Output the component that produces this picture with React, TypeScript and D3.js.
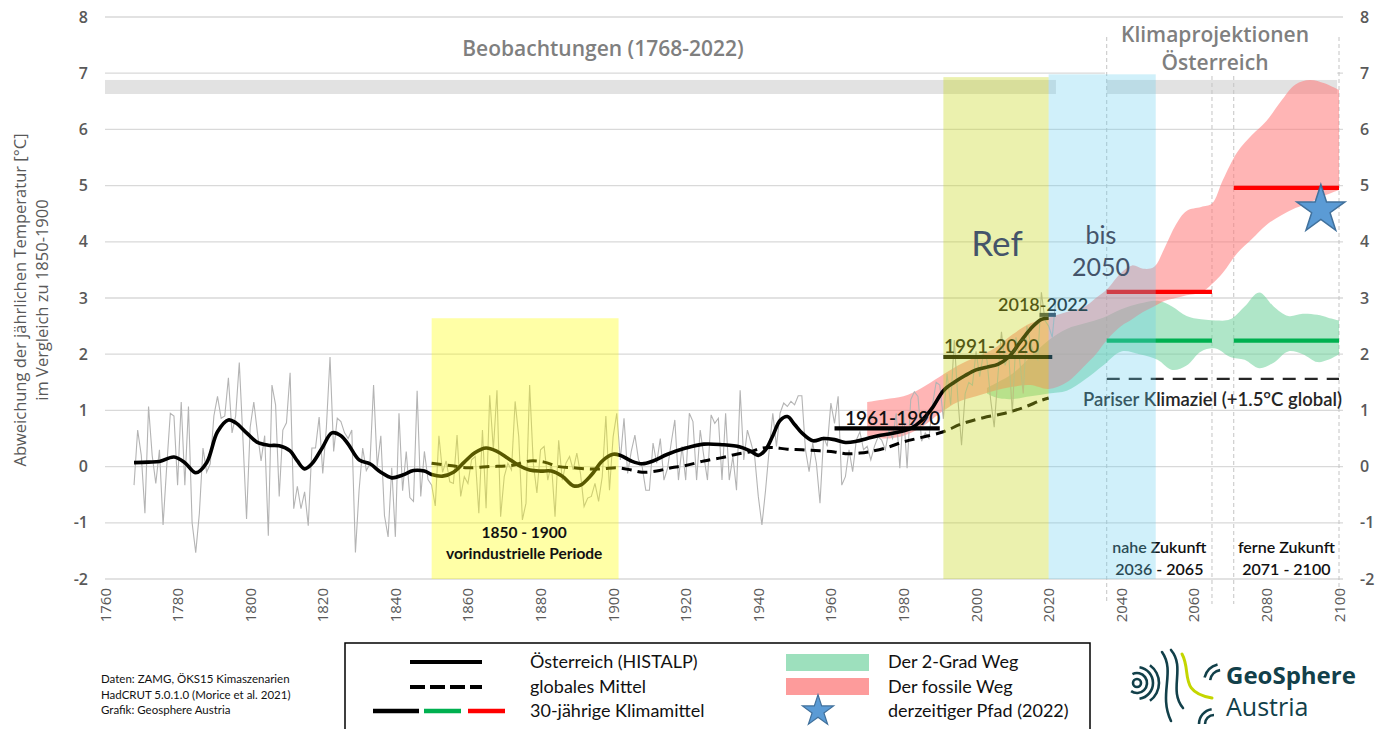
import React from 'react';
import * as d3 from 'd3';

// ---------------- DATA ----------------
const yTicks = [-2, -1, 0, 1, 2, 3, 4, 5, 6, 7, 8];
const xTicks = [1760, 1780, 1800, 1820, 1840, 1860, 1880, 1900, 1920, 1940, 1960, 1980, 2000, 2020, 2040, 2060, 2080, 2100];

// Austria (HISTALP) annual anomalies 1768-2022
const annualStart = 1768;
const annualVals = [
  -0.33, 0.65, 0.2, -0.83, 1.07, 0.2, -0.3, 0.3, -1.04, 0.0,
  0.95, 0.9, -0.33, 1.15, -0.33, 1.07, -1.0, -1.53, -0.83, 0.33,
  -0.1, 0.05, 0.9, 1.25, 0.86, 0.9, 1.58, 0.6, 0.9, 1.85,
  0.5, -0.93, 0.7, 1.15, 0.6, 0.1, 0.55, -1.23, 1.45, 1.1,
  -0.53, 0.65, 0.78, 1.67, -0.75, -0.35, -0.75, -0.45, -1.05, 0.33,
  0.33, 0.88, -0.12, 0.7, 1.95, 0.27, 0.86, 0.8, 0.6, 0.5,
  0.65, -1.53, -0.43, 0.33, -0.07, 0.05, 1.45, 0.0, 0.55, -0.87,
  -1.25, -0.02, -1.25, 0.95, -0.43, 0.27, -0.55, -0.62, 1.35, -0.53,
  0.27, -0.23, -0.33, -0.7, 0.55, -0.1, 0.1, -0.27, -0.3, 0.56,
  -0.53, -0.18, -0.3, 0.12, 0.18, -0.83, 0.65, -0.74, 1.27, 0.3,
  1.36, -0.89, -0.18, 0.06, -0.06, 1.16, 0.53, -0.95, -0.65, 1.45,
  0.06, -0.47, 0.3, 0.36, -0.24, 0.06, -0.89, 0.47, -0.24, 0.06,
  0.18, -0.06, 0.24, -0.12, -0.71, -0.56, -0.53, -0.3, -0.62, -0.18,
  0.9, -0.42, 0.53, 0.95, 0.12, 0.86, -0.12, 0.27, 0.56, 0.12,
  0.0, -0.42, -0.42, 0.42, 0.06, 0.5, -0.24, -0.03, 0.42, 0.83,
  -0.24, 0.36, -0.24, 0.95, 0.8, -0.24, 0.65, 0.18, -0.24, 0.92,
  0.77, 0.86, -0.24, 0.95, -0.24, 0.18, -0.42, 1.36, 0.12, 0.65,
  0.42, 0.18, -0.53, -1.04, -0.42, 0.3, 0.95, 0.36, 0.95, 1.13,
  1.07, 1.16, 1.1, 1.26, 1.26, 0.3, -0.09, 0.42, 0.06, -0.65,
  0.53, 0.36, 1.13, 0.77, 1.25, -0.33, -0.18, 0.3, -0.09, 0.47,
  0.62, 0.3, 0.36, 0.12, 0.36, 0.53, 0.47, 0.3, 0.65, 0.5,
  0.95, -0.03, 1.0, -0.03, 1.19, 1.33, 1.25, 0.45, 0.6, 0.5,
  1.1, 1.5, 1.45, 0.85, 1.65, 1.1, 2.25, 1.2, 0.38, 1.3,
  1.5, 1.45, 2.05, 1.6, 2.0, 1.9, 1.2, 0.7, 1.6, 2.4,
  1.8, 2.0, 0.95, 2.3, 1.9, 1.3, 2.5, 2.2, 2.0, 1.9,
  3.1, 2.6, 2.5, 2.3, 3.0,
];

// Austria smoothed
const trendYears = [1768, 1772, 1775, 1779, 1782, 1785, 1788, 1791, 1794, 1796, 1799, 1802, 1805, 1808, 1811, 1813, 1815, 1817, 1820, 1822.5, 1825, 1827, 1830, 1833, 1836, 1839, 1842, 1845, 1848, 1850, 1853, 1856, 1859, 1862, 1865, 1868, 1871, 1874, 1877, 1880, 1883, 1886, 1889, 1891, 1894, 1897, 1900, 1902, 1905, 1908, 1911, 1915, 1920, 1925, 1930, 1935, 1938, 1940, 1942, 1944, 1946, 1948, 1950, 1952, 1955, 1958, 1961, 1964, 1967, 1970, 1973, 1976, 1979, 1982, 1985, 1988, 1991, 1994, 1997, 2000, 2003, 2006, 2009, 2012, 2015, 2018, 2020];
const trendVals = [0.07, 0.08, 0.09, 0.17, 0.07, -0.11, 0.07, 0.62, 0.83, 0.78, 0.6, 0.43, 0.38, 0.37, 0.28, 0.1, -0.04, 0.05, 0.35, 0.6, 0.55, 0.4, 0.12, 0.05, -0.1, -0.2, -0.15, -0.07, -0.08, -0.14, -0.17, -0.1, 0.08, 0.25, 0.33, 0.27, 0.15, 0.02, -0.06, -0.08, -0.08, -0.17, -0.34, -0.33, -0.15, 0.1, 0.22, 0.2, 0.1, 0.05, 0.1, 0.22, 0.33, 0.4, 0.39, 0.35, 0.27, 0.2, 0.3, 0.55, 0.82, 0.89, 0.75, 0.6, 0.46, 0.5, 0.48, 0.43, 0.45, 0.5, 0.55, 0.58, 0.62, 0.68, 0.82, 1.05, 1.35, 1.5, 1.62, 1.72, 1.77, 1.82, 1.95, 2.2, 2.45, 2.62, 2.64];

// Global mean (HadCRUT) smoothed
const globalYears = [1850, 1855, 1860, 1866, 1872, 1877, 1881, 1885, 1889, 1893, 1897, 1901, 1905, 1908, 1912, 1916, 1920, 1925, 1930, 1934, 1938, 1941, 1944, 1948, 1952, 1957, 1961, 1964, 1968, 1971, 1975, 1980, 1985, 1991, 1996, 2002, 2008, 2013, 2018, 2020];
const globalVals = [0.06, 0.02, -0.02, 0.0, 0.02, 0.1, 0.08, 0.0, -0.02, -0.04, -0.04, -0.02, -0.06, -0.1, -0.08, -0.02, 0.02, 0.1, 0.16, 0.22, 0.27, 0.33, 0.34, 0.31, 0.3, 0.28, 0.26, 0.23, 0.24, 0.27, 0.33, 0.44, 0.52, 0.62, 0.76, 0.87, 0.95, 1.05, 1.18, 1.22];

// Fossil path ribbon (red)
const pinkYears = [1970, 1975, 1980, 1985, 1990, 1995, 2000, 2005, 2010, 2015, 2020, 2025, 2030, 2033, 2036, 2040, 2043, 2046, 2049, 2052, 2055, 2058, 2062, 2065, 2068, 2072, 2076, 2080, 2084, 2088, 2092, 2096, 2100];
const pinkLo = [0.55, 0.5, 0.55, 0.7, 0.95, 1.15, 1.25, 1.35, 1.42, 1.45, 1.38, 1.5, 1.8, 2.0, 2.25, 2.5, 2.62, 2.75, 2.85, 2.95, 3.0, 3.05, 3.1, 3.25, 3.45, 3.8, 4.05, 4.3, 4.47, 4.6, 4.7, 4.82, 4.92];
const pinkHi = [1.15, 1.2, 1.25, 1.4, 1.6, 1.8, 1.95, 2.1, 2.35, 2.55, 2.65, 2.75, 2.85, 3.0, 3.15, 3.45, 3.58, 3.52, 3.55, 3.9, 4.3, 4.55, 4.62, 4.68, 5.1, 5.6, 5.9, 6.15, 6.5, 6.8, 6.88, 6.82, 6.7];

// 2-degree path ribbon (green)
const greenYears = [2003, 2006, 2010, 2015, 2020, 2025, 2030, 2035, 2040, 2045, 2050, 2054, 2058, 2062, 2066, 2070, 2074, 2078, 2082, 2086, 2090, 2094, 2097, 2100];
const greenLo = [1.3, 1.22, 1.2, 1.25, 1.3, 1.35, 1.55, 1.8, 2.05, 2.0, 1.9, 1.72, 1.8, 2.05, 2.1, 1.95, 1.9, 1.75, 1.85, 2.05, 2.0, 1.86, 1.9, 2.0];
const greenHi = [1.4, 1.5, 1.65, 1.95, 2.25, 2.45, 2.55, 2.65, 2.8, 2.9, 2.95, 2.85, 2.68, 2.62, 2.6, 2.62, 2.85, 3.1, 2.85, 2.68, 2.72, 2.7, 2.65, 2.6];

// 30-year climate means
const meanFrom = [1961, 1991, 2017.5, 2036, 2071, 2036, 2071];
const meanTo = [1990, 2021, 2022, 2065, 2100, 2065, 2100];
const meanVals = [0.68, 1.95, 2.7, 3.11, 4.96, 2.24, 2.24];
const meanColors = ['#000000', '#000000', '#2f3a4f', '#ff0000', '#ff0000', '#00b050', '#00b050'];

const parisValue = 1.56;
const parisRange = [2036, 2100];
const starPoint = { year: 2095, value: 4.57 };
const periodLines = [2036, 2065, 2071, 2100];

// ---------------- LAYOUT ----------------
const W = 1381, H = 729;
const x = d3.scaleLinear().domain([1760, 2100]).range([105, 1339]);
const y = d3.scaleLinear().domain([-2, 8]).range([579, 17]);

const FONT = "'Open Sans', 'Noto Sans', sans-serif";
const LFONT = "Lato, 'Open Sans', sans-serif";

export default function App() {
  const annual = annualVals.map((v, i) => [annualStart + i, v] as [number, number]);
  const trend = trendYears.map((t, i) => [t, trendVals[i]] as [number, number]);
  const glob = globalYears.map((t, i) => [t, globalVals[i]] as [number, number]);

  const lineStraight = d3.line<[number, number]>().x(d => x(d[0])).y(d => y(d[1]));
  const lineSmooth = d3.line<[number, number]>().x(d => x(d[0])).y(d => y(d[1])).curve(d3.curveCatmullRom.alpha(0.5));

  const pinkPath = d3.area<number>()
    .x(i => x(pinkYears[i])).y0(i => y(pinkLo[i])).y1(i => y(pinkHi[i]))
    .curve(d3.curveCatmullRom.alpha(0.5))(d3.range(pinkYears.length));
  const greenPath = d3.area<number>()
    .x(i => x(greenYears[i])).y0(i => y(greenLo[i])).y1(i => y(greenHi[i]))
    .curve(d3.curveCatmullRom.alpha(0.5))(d3.range(greenYears.length));

  const star = d3.symbol(d3.symbolStar, 720)();
  const starSmall = d3.symbol(d3.symbolStar, 300)();

  const ring = (r: number, a0: number, a1: number) =>
    d3.arc()({ innerRadius: r - 1.3, outerRadius: r + 1.3, startAngle: a0, endAngle: a1 }) as string;

  return (
    <svg width={W} height={H} style={{ position: 'absolute', left: 0, top: 0, background: '#fff' }}>
      <rect x={0} y={0} width={W} height={H} fill="#fff" />
      {/* gridlines */}
      {yTicks.map(t => (
        <line key={t} x1={105} x2={1343} y1={y(t)} y2={y(t)} stroke="#d9d9d9" strokeWidth={1.3} />
      ))}
      {/* gray band */}
      <rect x={x(1760)} y={y(6.88)} width={x(2022) - x(1760)} height={y(6.63) - y(6.88)} fill="#e2e2e2" />
      <rect x={x(2036)} y={y(6.88)} width={x(2099.5) - x(2036)} height={y(6.63) - y(6.88)} fill="#e2e2e2" />
      {/* white box behind projections title */}
      <rect x={x(2035.5)} y={22} width={x(2099.5) - x(2035.5)} height={54} fill="#fff" />
      {/* vertical period lines */}
      {periodLines.map((p, i) => (
        <line key={p} x1={x(p)} x2={x(p)} y1={i === 0 || i === 3 ? 37 : 76} y2={604} stroke="#c4c4c4" strokeWidth={1} strokeDasharray="4,3" />
      ))}

      {/* ribbons */}
      <path d={greenPath as string} fill="rgb(110,210,155)" fillOpacity={0.55} />
      <path d={pinkPath as string} fill="rgb(255,120,120)" fillOpacity={0.55} />

      {/* annual values */}
      <path d={lineStraight(annual) as string} fill="none" stroke="#b4b4b4" strokeWidth={1.1} />
      {/* global mean */}
      <path d={lineSmooth(glob) as string} fill="none" stroke="#000" strokeWidth={3} strokeDasharray="10,6" />
      {/* Austria trend */}
      <path d={lineSmooth(trend) as string} fill="none" stroke="#000" strokeWidth={3.6} strokeLinejoin="round" />

      {/* 30-year means */}
      {meanVals.map((v, i) => (
        <line key={i} x1={x(meanFrom[i])} x2={x(meanTo[i])} y1={y(v)} y2={y(v)} stroke={meanColors[i]} strokeWidth={i === 2 ? 4 : 4.2} />
      ))}
      {/* Paris */}
      <line x1={x(parisRange[0])} x2={x(parisRange[1])} y1={y(parisValue)} y2={y(parisValue)} stroke="#262626" strokeWidth={2.2} strokeDasharray="13,9" />

      {/* labels under overlays */}
      <g fontFamily={LFONT} fontWeight={600} fill="#111">
        <text x={845} y={425} fontSize={19}>1961-1990</text>
        <text x={944} y={353} fontSize={19}>1991-2020</text>
        <text x={998} y={311} fontSize={18}>2018-2022</text>
        <text x={1083} y={406} fontSize={18.5} fill="#262626">Pariser Klimaziel (+1.5°C global)</text>
        <text x={x(2050.5)} y={553} fontSize={16} textAnchor="middle">nahe Zukunft</text>
        <text x={x(2050.5)} y={575} fontSize={16} textAnchor="middle">2036 - 2065</text>
        <text x={x(2085.5)} y={553} fontSize={16} textAnchor="middle">ferne Zukunft</text>
        <text x={x(2085.5)} y={575} fontSize={16} textAnchor="middle">2071 - 2100</text>
      </g>

      {/* overlays */}
      <rect x={x(1850)} y={y(2.64)} width={x(1901.5) - x(1850)} height={y(-2) - y(2.64)} fill="rgb(255,255,0)" fillOpacity={0.35} />
      <rect x={x(1991)} y={y(6.93)} width={x(2020) - x(1991)} height={y(-2) - y(6.93)} fill="rgb(200,215,30)" fillOpacity={0.36} />
      <rect x={x(2020)} y={y(6.98)} width={x(2049.5) - x(2020)} height={y(-2) - y(6.98)} fill="rgb(100,205,240)" fillOpacity={0.3} />

      {/* labels above overlays */}
      <g fontFamily={LFONT} fontWeight={700} fill="#111" fontSize={15.5} textAnchor="middle">
        <text x={x(1875.5)} y={538}>1850 - 1900</text>
        <text x={x(1875.5)} y={559}>vorindustrielle Periode</text>
      </g>
      <g fontFamily={LFONT} fill="#44546a" textAnchor="middle">
        <text x={997} y={256} fontSize={35}>Ref</text>
        <text x={1101} y={244} fontSize={25}>bis</text>
        <text x={1101} y={276} fontSize={25}>2050</text>
      </g>
      <path d={star as string} transform={`translate(${x(starPoint.year)},${y(starPoint.value)})`} fill="#5b9bd5" stroke="#41719c" strokeWidth={1.5} />

      {/* titles */}
      <g fontFamily={FONT} fontWeight={600} fill="#7f7f7f" fontSize={21} textAnchor="middle">
        <text x={603} y={56}>Beobachtungen (1768-2022)</text>
        <text x={1215} y={42}>Klimaprojektionen</text>
        <text x={1215} y={70}>Österreich</text>
      </g>

      {/* y ticks */}
      <g fontFamily={FONT} fontWeight={600} fill="#595959" fontSize={16}>
        {yTicks.map(t => (
          <text key={'l' + t} x={88} y={y(t) + 5.5} textAnchor="end">{t}</text>
        ))}
        {yTicks.map(t => (
          <text key={'r' + t} x={1360} y={y(t) + 5.5} textAnchor="start">{t}</text>
        ))}
      </g>
      {/* x ticks */}
      <g fontFamily={FONT} fill="#595959" fontSize={15}>
        {xTicks.map(t => (
          <text key={t} transform={`translate(${x(t) + 5.5},588) rotate(-90)`} textAnchor="end">{t}</text>
        ))}
      </g>
      {/* y title */}
      <g fontFamily={FONT} fill="#595959" fontSize={16.5} textAnchor="middle">
        <text transform="translate(26,300) rotate(-90)">Abweichung der jährlichen Temperatur [°C]</text>
        <text transform="translate(48,300) rotate(-90)">im Vergleich zu 1850-1900</text>
      </g>

      {/* credits */}
      <g fontFamily={LFONT} fill="#111" fontSize={11.5}>
        <text x={101} y={683}>Daten: ZAMG, ÖKS15 Kimaszenarien</text>
        <text x={101} y={699}>HadCRUT 5.0.1.0 (Morice et al. 2021)</text>
        <text x={101} y={714}>Grafik: Geosphere Austria</text>
      </g>

      {/* legend */}
      <rect x={345} y={643} width={745} height={100} fill="#fff" stroke="#000" strokeWidth={1.5} />
      <line x1={410} x2={482} y1={662} y2={662} stroke="#000" strokeWidth={4} />
      <line x1={410} x2={482} y1={687} y2={687} stroke="#000" strokeWidth={4} strokeDasharray="15,5" />
      <line x1={373} x2={419} y1={711} y2={711} stroke="#000" strokeWidth={4.5} />
      <line x1={424} x2={461} y1={711} y2={711} stroke="#00b050" strokeWidth={4.5} />
      <line x1={468} x2={505} y1={711} y2={711} stroke="#ff0000" strokeWidth={4.5} />
      <rect x={786} y={654} width={83} height={17} fill="#9de0bd" />
      <rect x={786} y={678} width={83} height={17} fill="#fd9b9b" />
      <path d={starSmall as string} transform="translate(818,711)" fill="#5b9bd5" stroke="#41719c" strokeWidth={1.2} />
      <g fontFamily={LFONT} fill="#111" fontSize={18}>
        <text x={530} y={668}>Österreich (HISTALP)</text>
        <text x={530} y={693}>globales Mittel</text>
        <text x={530} y={717}>30-jährige Klimamittel</text>
        <text x={888} y={668}>Der 2-Grad Weg</text>
        <text x={888} y={693}>Der fossile Weg</text>
        <text x={888} y={717}>derzeitiger Pfad (2022)</text>
      </g>

      {/* logo */}
      <g fill="#12404a">
        <path d={ring(4, 0, 2 * Math.PI)} transform="translate(1137,683)" />
        <path d={ring(10, -0.15 * Math.PI, 1.2 * Math.PI)} transform="translate(1137,683)" />
        <path d={ring(16, 0.05 * Math.PI, 0.95 * Math.PI)} transform="translate(1137,683)" />
        <path d={ring(22, 0.2 * Math.PI, 0.8 * Math.PI)} transform="translate(1137,683)" />
        <path d={ring(12, -0.45 * Math.PI, -0.05 * Math.PI)} transform="translate(1222,682)" />
        <path d={ring(18, -0.42 * Math.PI, -0.08 * Math.PI)} transform="translate(1222,682)" />
        <path d={ring(9, -0.5 * Math.PI, 0)} transform="translate(1214,724)" />
        <path d={ring(15, -0.5 * Math.PI, -0.05 * Math.PI)} transform="translate(1214,724)" />
      </g>
      <g fill="none" strokeLinecap="round">
        <path d="M1162,652 C1176,672 1158,694 1171,721" stroke="#12404a" strokeWidth={2.6} />
        <path d="M1171,650 C1186,668 1168,690 1183,708" stroke="#12404a" strokeWidth={2.6} />
        <path d="M1182,654 C1192,672 1178,692 1212,698" stroke="#c4d600" strokeWidth={3} />
      </g>
      <g fontFamily={FONT} fill="#12404a">
        <text x={1226} y={684} fontSize={24} fontWeight={700}>GeoSphere</text>
        <text x={1226} y={716} fontSize={25}>Austria</text>
      </g>
    </svg>
  );
}
